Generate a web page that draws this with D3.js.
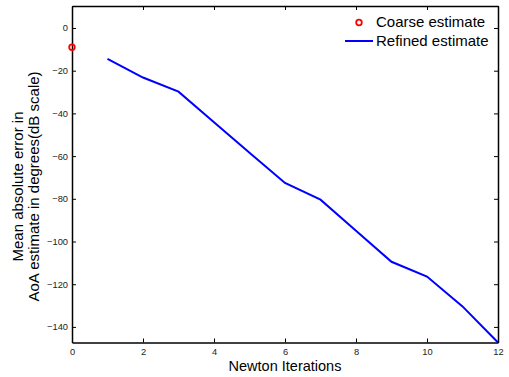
<!DOCTYPE html>
<html><head><meta charset="utf-8">
<script src="https://cdn.jsdelivr.net/npm/d3@7"></script>
<style>body{margin:0;background:#fff}svg{display:block}text{font-family:"Liberation Sans",Arial,sans-serif}</style>
</head><body>
<script>
const coarseX = [0];
const coarseY = [-9.0];
const refinedX = [1,2,3,4,5,6,7,8,9,10,11,12];
const refinedY = [-14.5,-23.2,-29.8,-44.1,-58.4,-72.6,-80.4,-95.0,-109.5,-116.4,-130.4,-147.3];
const xTicks = [0,2,4,6,8,10,12];
const yTicks = [0,-20,-40,-60,-80,-100,-120,-140];
const legendLabels = ["Coarse estimate","Refined estimate"];

const W=509,H=377;
const m={l:72,t:6,r:11,b:34.5};
const svg=d3.select("body").append("svg").attr("width",W).attr("height",H);
const x=d3.scaleLinear().domain([0,12]).range([m.l,W-m.r]);
const y=d3.scaleLinear().domain([-147.3,10.3]).range([H-m.b,m.t]);
const fmt=d=>d<0?"\u2212"+Math.abs(d):String(d);

const g=svg.append("g");
const tl=4;
const bx=g.append("g").attr("transform",`translate(0,${y.range()[0]})`)
  .call(d3.axisBottom(x).tickValues(xTicks).tickSizeInner(-tl).tickSizeOuter(0).tickPadding(6).tickFormat(fmt));
const lx=g.append("g").attr("transform",`translate(${m.l},0)`)
  .call(d3.axisLeft(y).tickValues(yTicks).tickSizeInner(-tl).tickSizeOuter(0).tickPadding(4).tickFormat(fmt));
const tx=g.append("g").attr("transform",`translate(0,${m.t})`)
  .call(d3.axisTop(x).tickValues(xTicks).tickSizeInner(-tl).tickSizeOuter(0).tickFormat(""));
const rx=g.append("g").attr("transform",`translate(${W-m.r},0)`)
  .call(d3.axisRight(y).tickValues(yTicks).tickSizeInner(-tl).tickSizeOuter(0).tickFormat(""));
[bx,lx,tx,rx].forEach(a=>{
  a.select(".domain").attr("stroke","#000").attr("stroke-width",1.5);
  a.selectAll(".tick line").attr("stroke","#000").attr("stroke-width",1);
  a.selectAll(".tick text").attr("font-size",9.3).attr("fill","#222").attr("font-family","Liberation Sans, Arial, sans-serif");
});

const line=d3.line().x((d,i)=>x(refinedX[i])).y(d=>y(d));
g.append("path").datum(refinedY).attr("d",line).attr("fill","none").attr("stroke","#0000ff").attr("stroke-width",2);
g.selectAll("circle.c").data(coarseY).enter().append("circle")
  .attr("cx",(d,i)=>x(coarseX[i])).attr("cy",d=>y(d)).attr("r",2.8)
  .attr("fill","none").attr("stroke","#ff0000").attr("stroke-width",1.8);

svg.append("text").attr("x",285).attr("y",371).attr("text-anchor","middle").attr("font-size",14.5).text("Newton Iterations");
const yl=svg.append("text").attr("transform","translate(0,186.5) rotate(-90)").attr("text-anchor","middle").attr("font-size",15);
yl.append("tspan").attr("x",0).attr("y",23).text("Mean absolute error in");
yl.append("tspan").attr("x",0).attr("y",39).text("AoA estimate in degrees(dB scale)");

const lg=svg.append("g");
lg.append("circle").attr("cx",359).attr("cy",22.5).attr("r",2.8).attr("fill","none").attr("stroke","#ff0000").attr("stroke-width",1.8);
lg.append("line").attr("x1",345).attr("x2",373).attr("y1",41).attr("y2",41).attr("stroke","#0000ff").attr("stroke-width",2);
lg.append("text").attr("x",376).attr("y",27).attr("font-size",15).text(legendLabels[0]);
lg.append("text").attr("x",376).attr("y",46).attr("font-size",15).text(legendLabels[1]);
</script>
</body></html>
